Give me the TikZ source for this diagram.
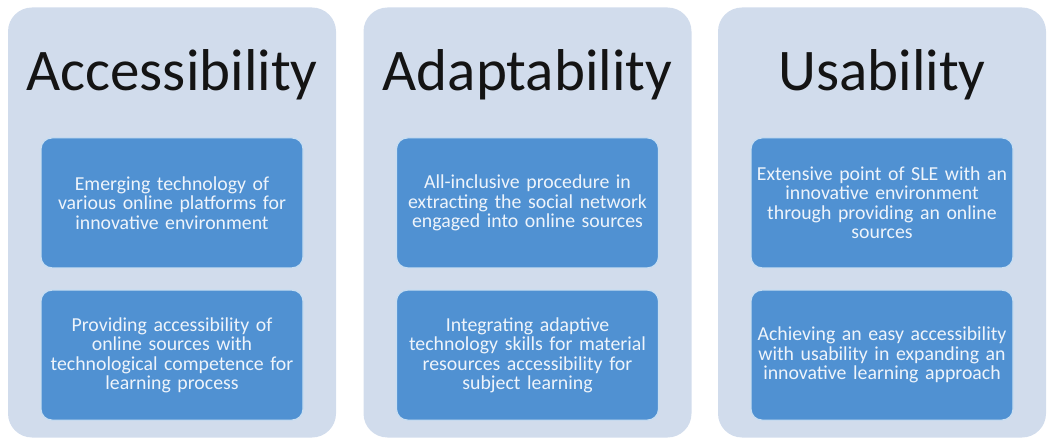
\documentclass[tikz,border=0pt]{standalone}
\usepackage{fontspec}
\setmainfont{Carlito}
\usetikzlibrary{positioning}

\definecolor{panelfill}{RGB}{209,220,236}
\definecolor{boxfill}{RGB}{80,145,210}
\definecolor{boxline}{RGB}{200,222,242}
\definecolor{boxtext}{RGB}{238,244,251}

\tikzset{
  panel/.style={fill=panelfill, rounded corners=24pt, minimum width=328pt, minimum height=430pt, inner sep=0pt},
  heading/.style={anchor=base, inner sep=0pt, text=black!92, font=\fontsize{59}{60}\selectfont},
  itembox/.style={fill=boxfill, draw=boxline, line width=1.2pt, rounded corners=11pt,
    minimum width=262pt, minimum height=130pt, text width=256pt, inner sep=0pt,
    align=center, text=boxtext, font=\fontsize{19.8}{19.5}\selectfont}
}

\begin{document}
\begin{tikzpicture}[x=1pt, y=1pt]
  \useasboundingbox (0,0) rectangle (1048,439);

  % Panels
  \node[panel] (pAcc) at (172,216.5) {}; % accessibility
  \node[panel] (pAda) at (527.5,216.5) {}; % adaptability
  \node[panel] (pUse) at (882,216.5) {}; % usability

  % Headings
  \node[heading] (hAcc) at ([yshift=-83pt]pAcc.north) {Accessibility};
  \node[heading] (hAda) at ([yshift=-83pt]pAda.north) {Adaptability};
  \node[heading] (hUse) at ([yshift=-83pt]pUse.north) {Usability};

  % Items
  \node[itembox, below=130pt of pAcc.north] (acc1) {Emerging technology of\\ various online platforms for\\ innovative environment};
  \node[itembox, below=21pt of acc1] (acc2) {Providing accessibility of\\ online sources with\\ technological competence for\\ learning process};

  \node[itembox, below=130pt of pAda.north] (ada1) {All-inclusive procedure in\\ extracting the social network\\ engaged into online sources};
  \node[itembox, below=21pt of ada1] (ada2) {Integrating adaptive\\ technology skills for material\\ resources accessibility for\\ subject learning};

  \node[itembox, below=130pt of pUse.north] (use1) {Extensive point of SLE with an\\ innovative environment\\ through providing an online\\ sources};
  \node[itembox, below=21pt of use1] (use2) {Achieving an easy accessibility\\ with usability in expanding an\\ innovative learning approach};

\end{tikzpicture}
\end{document}
